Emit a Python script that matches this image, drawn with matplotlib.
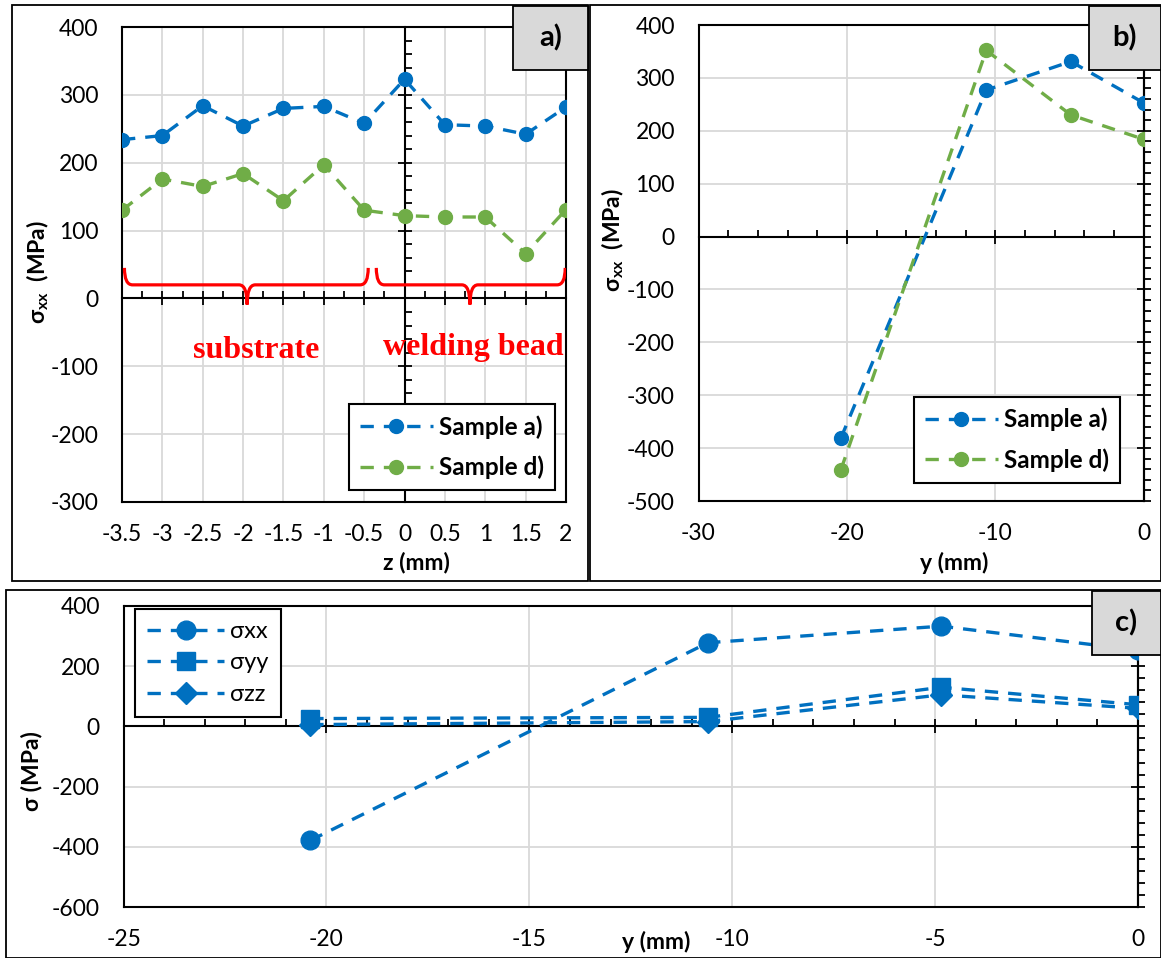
import matplotlib
matplotlib.use('Agg')
import matplotlib.pyplot as plt
from matplotlib.patches import Rectangle, PathPatch
from matplotlib.path import Path
from matplotlib.ticker import MultipleLocator, StrMethodFormatter

plt.rcParams['font.family'] = ['Lato', 'DejaVu Sans']
plt.rcParams['axes.unicode_minus'] = False
plt.rcParams['mathtext.fontset'] = 'custom'
plt.rcParams['mathtext.bf'] = 'Lato:bold'
plt.rcParams['mathtext.rm'] = 'Lato'

BLUE = '#0070C0'
GREEN = '#70AD47'
W, H = 1161, 958
DASH = (0, (4, 3))

# a) sigma_xx along z
z_a = [-3.5, -3, -2.5, -2, -1.5, -1, -0.5, 0, 0.5, 1, 1.5, 2]
sxx_a_sample_a = [234, 240, 284, 254, 280, 283, 258, 323, 256, 254, 242, 282]
sxx_a_sample_d = [130, 176, 165, 184, 144, 197, 130, 122, 120, 120, 66, 131]
# brace regions (start, end, tip) and their labels
braces = [(-3.47, -0.45, -1.95), (-0.35, 1.99, 0.81)]
region_labels = ['substrate', 'welding bead']
region_label_pos = [(-1.84, -76), (0.85, -73)]

# b) sigma_xx along y
y_b = [-20.4, -10.6, -4.9, 0]
sxx_b_sample_a = [-381, 277, 331, 253]
sxx_b_sample_d = [-441, 352, 230, 184]

# c) stress components along y
y_c = [-20.4, -10.6, -4.85, 0]
s_xx = [-379, 278, 333, 253]
s_yy = [26, 30, 130, 72]
s_zz = [6, 16, 105, 60]

fig = plt.figure(figsize=(W / 100, H / 100), dpi=100)


def px_box(l, t, r, b):
    return [l / W, 1 - b / H, (r - l) / W, (b - t) / H]


def make_axes(box, xlim, ylim, xmaj, xmin, ymaj, ymin):
    ax = fig.add_axes(box)
    ax.set_xlim(xlim)
    ax.set_ylim(ylim)
    ax.xaxis.set_major_locator(MultipleLocator(xmaj))
    ax.yaxis.set_major_locator(MultipleLocator(ymaj))
    ax.xaxis.set_minor_locator(MultipleLocator(xmin))
    ax.yaxis.set_minor_locator(MultipleLocator(ymin))
    ax.xaxis.set_major_formatter(StrMethodFormatter('{x:g}'))
    ax.yaxis.set_major_formatter(StrMethodFormatter('{x:g}'))
    ax.grid(True, which='major', color='#d9d9d9', lw=1.3)
    ax.set_axisbelow(True)
    ax.tick_params(which='both', length=0, labelsize=16.5)
    ax.tick_params(axis='x', pad=16)
    ax.tick_params(axis='y', pad=17)
    for s in ax.spines.values():
        s.set_linewidth(1.5)

    # axes crossing at zero, Excel style
    ax2 = fig.add_axes(box, sharex=ax, sharey=ax)
    ax2.patch.set_visible(False)
    ax2.spines['top'].set_visible(False)
    ax2.spines['right'].set_visible(False)
    ax2.spines['left'].set_position(('data', 0))
    ax2.spines['bottom'].set_position(('data', 0))
    ax2.spines['left'].set_linewidth(1.5)
    ax2.spines['bottom'].set_linewidth(1.5)
    ax2.tick_params(which='both', labelleft=False, labelbottom=False, width=1.3)
    ax2.tick_params(which='major', direction='inout', length=10)
    ax2.tick_params(which='minor', direction='in', length=5)
    return ax, ax2


def label_box(l, t, r, b, txt):
    fig.add_artist(Rectangle((l / W, 1 - b / H), (r - l) / W, (b - t) / H,
                             transform=fig.transFigure, facecolor='#d9d9d9',
                             edgecolor='black', lw=1.3, zorder=10))
    fig.text((l + r) / 2 / W, 1 - (t + b) / 2 / H, txt, ha='center', va='center',
             fontsize=21, fontweight='bold', zorder=11)


def frame(l, t, r, b):
    fig.add_artist(Rectangle((l / W, 1 - b / H), (r - l) / W, (b - t) / H,
                             transform=fig.transFigure, facecolor='none',
                             edgecolor='black', lw=1.3, zorder=9))


def brace(ax, x0, x1, xc, ytop=45, ymid=20, ytip=-9, rx=0.1):
    verts = [(x0, ytop), (x0, ymid), (x0 + rx, ymid), (xc - rx, ymid), (xc, ymid), (xc, ytip),
             (xc, ymid), (xc + rx, ymid), (x1 - rx, ymid), (x1, ymid), (x1, ytop)]
    codes = [Path.MOVETO, Path.CURVE3, Path.CURVE3, Path.LINETO, Path.CURVE3, Path.CURVE3,
             Path.CURVE3, Path.CURVE3, Path.LINETO, Path.CURVE3, Path.CURVE3]
    ax.add_patch(PathPatch(Path(verts, codes), facecolor='none', edgecolor='red',
                           lw=2.3, zorder=4))


frame(12, 5, 588, 581)
frame(590, 5, 1161, 581)
frame(6, 590, 1161, 958)

leg_kw = dict(frameon=True, fancybox=False, edgecolor='black', framealpha=1,
              borderaxespad=0, handletextpad=0.25)

# ---- panel a
ax, ax2 = make_axes(px_box(122, 27, 566, 502), (-3.5, 2), (-300, 400), 0.5, 0.25, 100, 20)
ax2.plot(z_a, sxx_a_sample_a, ls=DASH, lw=2.4, color=BLUE, marker='o', ms=10, label='Sample a)', zorder=3)
ax2.plot(z_a, sxx_a_sample_d, ls=DASH, lw=2.4, color=GREEN, marker='o', ms=10, label='Sample d)', zorder=3)
for (x0, x1, xc) in braces:
    brace(ax2, x0, x1, xc)
for txt, (x, y) in zip(region_labels, region_label_pos):
    ax2.text(x, y, txt, color='red', fontsize=23, fontweight='bold',
             family='Liberation Serif', ha='center', va='center', zorder=6)
leg = ax2.legend(loc='lower right', bbox_to_anchor=(0.975, 0.025),
                 prop={'weight': 'bold', 'size': 17.5}, labelspacing=0.7,
                 borderpad=0.45, handlelength=3.0, **leg_kw)
leg.get_frame().set_linewidth(1.5)
ax.text(0.663, -0.128, 'z (mm)', transform=ax.transAxes, ha='center', va='center',
        fontsize=16.5, fontweight='bold')
ax.text(-0.189, 0.484, r'σ$_{\mathbf{xx}}$  (MPa)', transform=ax.transAxes, rotation=90,
        ha='center', va='center', fontsize=16.5, fontweight='bold')
label_box(513, 6, 588, 70, 'a)')

# ---- panel b
ax, ax2 = make_axes(px_box(698.5, 25, 1143.5, 501), (-30, 0), (-500, 400), 10, 2, 100, 20)
ax2.plot(y_b, sxx_b_sample_a, ls=DASH, lw=2.4, color=BLUE, marker='o', ms=10, label='Sample a)', zorder=3)
ax2.plot(y_b, sxx_b_sample_d, ls=DASH, lw=2.4, color=GREEN, marker='o', ms=10, label='Sample d)', zorder=3)
leg = ax2.legend(loc='lower right', bbox_to_anchor=(0.947, 0.038),
                 prop={'weight': 'bold', 'size': 17.5}, labelspacing=0.7,
                 borderpad=0.45, handlelength=3.0, **leg_kw)
leg.get_frame().set_linewidth(1.5)
ax.text(0.574, -0.130, 'y (mm)', transform=ax.transAxes, ha='center', va='center',
        fontsize=16.5, fontweight='bold')
ax.text(-0.194, 0.548, r'σ$_{\mathbf{xx}}$  (MPa)', transform=ax.transAxes, rotation=90,
        ha='center', va='center', fontsize=16.5, fontweight='bold')
label_box(1089, 6, 1161, 70, 'b)')

# ---- panel c
ax, ax2 = make_axes(px_box(123.6, 606, 1138, 907), (-25, 0), (-600, 400), 5, 1, 200, 40)
ax2.plot(y_c, s_xx, ls=DASH, lw=2.4, color=BLUE, marker='o', ms=13.5, label='σxx', zorder=3)
ax2.plot(y_c, s_yy, ls=DASH, lw=2.4, color=BLUE, marker='s', ms=12.5, label='σyy', zorder=3)
ax2.plot(y_c, s_zz, ls=DASH, lw=2.4, color=BLUE, marker='D', ms=11, label='σzz', zorder=3)
leg = ax2.legend(loc='upper left', bbox_to_anchor=(0.011, 0.99),
                 prop={'size': 17}, labelspacing=0.45, borderpad=0.5,
                 handlelength=3.3, **leg_kw)
leg.get_frame().set_linewidth(1.5)
ax.text(0.525, -0.116, 'y (mm)', transform=ax.transAxes, ha='center', va='center',
        fontsize=16.5, fontweight='bold')
ax.text(-0.091, 0.452, 'σ (MPa)', transform=ax.transAxes, rotation=90,
        ha='center', va='center', fontsize=16.5, fontweight='bold')
label_box(1092, 591, 1161, 655, 'c)')

fig.savefig('out.png', dpi=100)
